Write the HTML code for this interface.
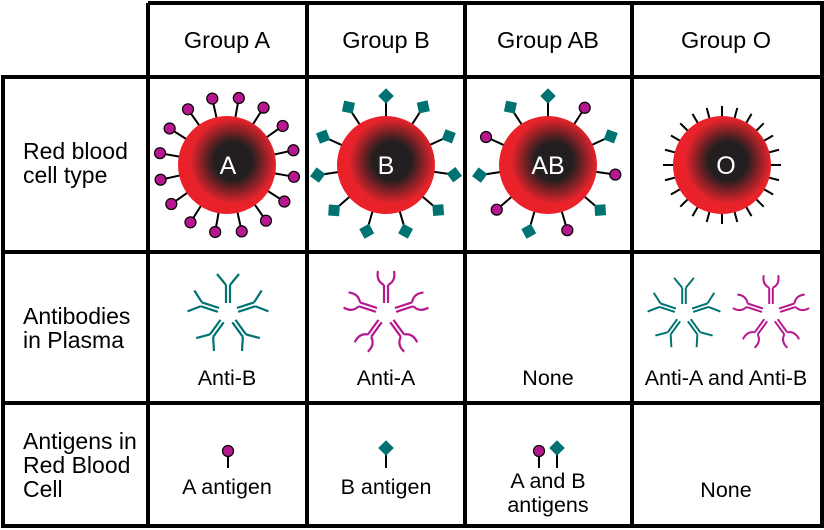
<!DOCTYPE html>
<html><head><meta charset="utf-8"><style>
body{margin:0;background:#fff}
svg{display:block;font-family:"Liberation Sans",sans-serif}
</style></head><body>
<svg id="s" width="824" height="530" viewBox="0 0 824 530" xmlns="http://www.w3.org/2000/svg">
<defs>
<radialGradient id="rb" cx="0.56" cy="0.46" r="0.56">
<stop offset="0" stop-color="#231f20"/><stop offset="0.35" stop-color="#231f20"/><stop offset="0.78" stop-color="#e8232b"/><stop offset="1" stop-color="#ec2028"/>
</radialGradient>
</defs>
<g fill="none" stroke="#000" stroke-width="4">
<path d="M148 3H822V526H3V77H822M148 3V526M307 3V526M465 3V526M632 3V526M3 252H822M3 403H822"/>
</g>
<g font-size="23.5" fill="#000" text-anchor="middle">
<text x="227" y="48">Group A</text><text x="386" y="48">Group B</text><text x="548" y="48">Group AB</text><text x="726" y="48">Group O</text>
</g>
<g font-size="23" fill="#000">
<text x="23" y="159">Red blood</text><text x="23" y="183">cell type</text>
<text x="23" y="324">Antibodies</text><text x="23" y="348">in Plasma</text>
<text x="23" y="449">Antigens in</text><text x="23" y="473">Red Blood</text><text x="23" y="497">Cell</text>
</g>
<g font-size="21.5" fill="#000" text-anchor="middle">
<text x="227" y="385">Anti-B</text><text x="386" y="385">Anti-A</text><text x="548" y="385">None</text><text x="726" y="385">Anti-A and Anti-B</text>
<text x="227" y="494">A antigen</text><text x="386" y="494">B antigen</text>
<text x="548" y="488">A and B</text><text x="548" y="512">antigens</text>
<text x="726" y="497">None</text>
</g>
<g id="dyn"></g>
<g fill="#fff" font-size="25" text-anchor="middle">
<text x="228" y="174">A</text><text x="386" y="174">B</text><text x="548" y="174">AB</text><text x="726" y="174">O</text>
</g>
</svg>
<script>
var g=document.getElementById('dyn'),h='';
var T='#007272',M='#b5178e';
function ball(x,y){return '<circle cx="'+x+'" cy="'+y+'" r="5.5" fill="'+M+'" stroke="#000" stroke-width="1.2"/>';}
function dia(x,y,a){return '<rect x="'+(x-5.5)+'" y="'+(y-5.5)+'" width="11" height="11" fill="'+T+'" transform="rotate('+a+' '+x+' '+y+')"/>';}
function line(x1,y1,x2,y2,c,w){return '<line x1="'+x1+'" y1="'+y1+'" x2="'+x2+'" y2="'+y2+'" stroke="'+(c||'#000')+'" stroke-width="'+(w||2)+'"/>';}
function cell(cx,cy,r,list){
 list.forEach(function(o){var a=o[0]*Math.PI/180,s=Math.sin(a),c=-Math.cos(a);
  var L=o[1]=='t'?10:14;
  h+=line(cx+s*(r-2),cy+c*(r-2),cx+s*(r+L),cy+c*(r+L));
  if(o[1]=='a')h+=ball(cx+s*(r+19),cy+c*(r+19));
  if(o[1]=='b')h+=dia(cx+s*(r+20),cy+c*(r+20),o[0]+45);
 });
 h+='<circle cx="'+cx+'" cy="'+cy+'" r="'+r+'" fill="url(#rb)"/>';
}
var A=[];for(var i=0;i<16;i++)A.push([i*22.5+10,'a']);
cell(227,165,49,A);
var B=[];for(i=0;i<11;i++)B.push([i*32.7,'b']);
cell(386,165,49,B);
var AB=[];for(i=0;i<11;i++)AB.push([i*32.7,i%2?'a':'b']);
cell(548,165,49,AB);
var O=[];for(i=0;i<24;i++)O.push([i*15,'t']);
cell(722,165,49,O);
function ab(cx,cy,rot,col,curved,sc){
 var p='';
 p+='<g transform="translate('+cx+' '+cy+') rotate('+rot+') scale('+sc+')" stroke="'+col+'" stroke-width="2.2" fill="none">';
 p+='<line x1="-2" y1="-10" x2="-2" y2="-28"/><line x1="2" y1="-10" x2="2" y2="-28"/>';
 if(curved){p+='<path d="M-2 -28 Q-10 -32 -8 -42"/><path d="M2 -28 Q10 -32 8 -42"/>';}
 else{p+='<line x1="-2" y1="-28" x2="-11" y2="-39"/><line x1="2" y1="-28" x2="11" y2="-39"/>';}
 p+='</g>';return p;
}
function star(cx,cy,col,curved,sc){for(var k=0;k<5;k++)h+=ab(cx,cy,k*72,col,curved,sc);}
star(228,313,T,false,1);
star(386,313,M,true,1);
star(684,313,T,false,0.9);
star(771,313,M,true,0.9);
h+=line(228,457,228,468)+ball(228,451);
h+=line(386,452,386,468)+dia(386,448,45);
h+=line(539,457,539,468)+ball(539,451);
h+=line(557,452,557,468)+dia(557,448,45);
g.innerHTML=h;
</script>
</body></html>
